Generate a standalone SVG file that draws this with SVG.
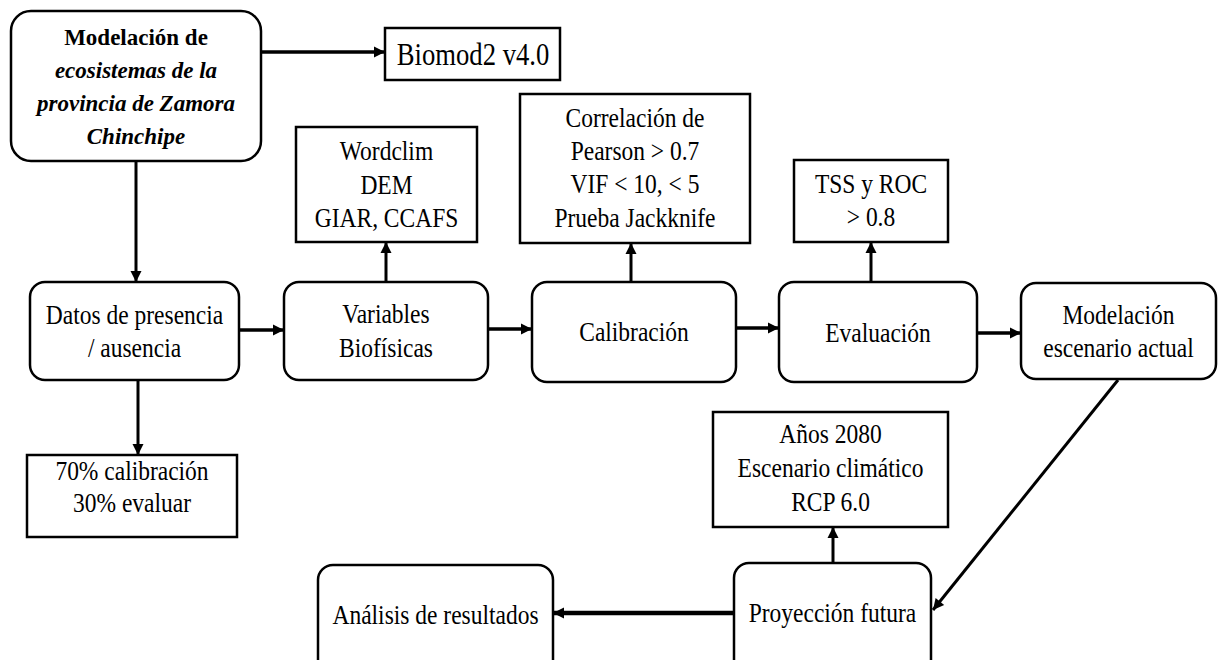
<svg xmlns="http://www.w3.org/2000/svg" width="1218" height="660" viewBox="0 0 1218 660">
<style>
.box{fill:#fff;stroke:#000;stroke-width:2.5}
.lbl{font-family:'Liberation Serif','Times New Roman',serif;font-size:30px;fill:#000;text-anchor:middle}
.big{font-family:'Liberation Serif','Times New Roman',serif;font-size:31px;fill:#000;text-anchor:middle}
.ttl{font-family:'Liberation Serif','Times New Roman',serif;font-size:23px;font-weight:bold;fill:#000;text-anchor:middle}
.itl{font-style:italic}
.c{stroke:#000;stroke-width:3.5;fill:none}
.c2{stroke:#000;stroke-width:3;fill:none}
.c3{stroke:#000;stroke-width:4.5;fill:none}
</style>
<defs>
<marker id="ah" markerUnits="userSpaceOnUse" markerWidth="14" markerHeight="14" viewBox="0 0 14 14" refX="12" refY="7" orient="auto">
<path d="M1,1.5 L12,7 L1,12.5 Z" fill="#000"/>
</marker>
</defs>
<rect width="1218" height="660" fill="#fff"/>
<g id="connectors">
<line class="c" x1="261" y1="52" x2="385" y2="52" marker-end="url(#ah)"/>
<line class="c2" x1="136" y1="161" x2="136" y2="282" marker-end="url(#ah)"/>
<line class="c2" x1="138" y1="380" x2="138" y2="455" marker-end="url(#ah)"/>
<line class="c" x1="239" y1="330" x2="284" y2="330" marker-end="url(#ah)"/>
<line class="c2" x1="386" y1="282" x2="386" y2="242" marker-end="url(#ah)"/>
<line class="c" x1="488" y1="329" x2="532" y2="329" marker-end="url(#ah)"/>
<line class="c2" x1="631" y1="282" x2="631" y2="243" marker-end="url(#ah)"/>
<line class="c" x1="736" y1="328" x2="779" y2="328" marker-end="url(#ah)"/>
<line class="c2" x1="871" y1="282" x2="871" y2="242" marker-end="url(#ah)"/>
<line class="c" x1="977" y1="333" x2="1021" y2="333" marker-end="url(#ah)"/>
<line class="c2" x1="1118" y1="380" x2="933" y2="610" marker-end="url(#ah)"/>
<line class="c2" x1="833" y1="563" x2="833" y2="527" marker-end="url(#ah)"/>
<line class="c3" x1="734" y1="613" x2="553" y2="613" marker-end="url(#ah)"/>
</g>
<g id="n-modelacion">
<rect class="box" x="11" y="11" width="250" height="150" rx="20"/>
<text class="ttl" x="136" y="45">Modelación de</text>
<text class="ttl itl" x="136" y="78">ecosistemas de la</text>
<text class="ttl itl" x="136" y="111">provincia de Zamora</text>
<text class="ttl itl" x="136" y="144">Chinchipe</text>
</g>
<g id="n-biomod">
<rect class="box" x="385" y="28" width="175" height="52"/>
<text class="big" transform="translate(473,65) scale(0.86,1)">Biomod2 v4.0</text>
</g>
<g id="n-wordclim">
<rect class="box" x="296" y="127" width="181" height="115"/>
<text class="lbl" transform="translate(386.5,160) scale(0.783,0.9)"><tspan x="0" y="0">Wordclim</tspan><tspan x="0" y="37.8">DEM</tspan><tspan x="0" y="74.4">GIAR, CCAFS</tspan></text>
</g>
<g id="n-correlacion">
<rect class="box" x="520" y="94" width="230" height="149"/>
<text class="lbl" transform="translate(635,127) scale(0.783,0.9)"><tspan x="0" y="0">Correlación de</tspan><tspan x="0" y="36.7">Pearson &gt; 0.7</tspan><tspan x="0" y="73.3">VIF &lt; 10, &lt; 5</tspan><tspan x="0" y="111.1">Prueba Jackknife</tspan></text>
</g>
<g id="n-tss">
<rect class="box" x="794" y="160" width="154" height="82"/>
<text class="lbl" transform="translate(871,193) scale(0.783,0.9)"><tspan x="0" y="0">TSS y ROC</tspan><tspan x="0" y="36.7">&gt; 0.8</tspan></text>
</g>
<g id="n-datos">
<rect class="box" x="30" y="282" width="209" height="98" rx="15"/>
<text class="lbl" transform="translate(134.5,324) scale(0.783,0.9)"><tspan x="0" y="0">Datos de presencia</tspan><tspan x="0" y="36.7">/ ausencia</tspan></text>
</g>
<g id="n-variables">
<rect class="box" x="284" y="282" width="204" height="98" rx="15"/>
<text class="lbl" transform="translate(386,323) scale(0.783,0.9)"><tspan x="0" y="0">Variables</tspan><tspan x="0" y="37.8">Biofísicas</tspan></text>
</g>
<g id="n-calibracion">
<rect class="box" x="532" y="282" width="204" height="100" rx="15"/>
<text class="lbl" transform="translate(634,341) scale(0.783,0.9)">Calibración</text>
</g>
<g id="n-evaluacion">
<rect class="box" x="779" y="282" width="198" height="100" rx="15"/>
<text class="lbl" transform="translate(878,342) scale(0.783,0.9)">Evaluación</text>
</g>
<g id="n-escenario">
<rect class="box" x="1021" y="283" width="195" height="96" rx="15"/>
<text class="lbl" transform="translate(1118.5,324) scale(0.783,0.9)"><tspan x="0" y="0">Modelación</tspan><tspan x="0" y="36.7">escenario actual</tspan></text>
</g>
<g id="n-70">
<rect class="box" x="27" y="455" width="210" height="82"/>
<text class="lbl" transform="translate(132,480) scale(0.783,0.9)"><tspan x="0" y="0">70% calibración</tspan><tspan x="0" y="35.6">30% evaluar</tspan></text>
</g>
<g id="n-anos">
<rect class="box" x="713" y="412" width="235" height="115"/>
<text class="lbl" transform="translate(830.5,443) scale(0.783,0.9)"><tspan x="0" y="0">Años 2080</tspan><tspan x="0" y="37.8">Escenario climático</tspan><tspan x="0" y="75.6">RCP 6.0</tspan></text>
</g>
<g id="n-proyeccion">
<rect class="box" x="734" y="563" width="197" height="120" rx="15"/>
<text class="lbl" transform="translate(832.5,622) scale(0.783,0.9)">Proyección futura</text>
</g>
<g id="n-analisis">
<rect class="box" x="318" y="565" width="235" height="120" rx="15"/>
<text class="lbl" transform="translate(435.5,624) scale(0.783,0.9)">Análisis de resultados</text>
</g>
</svg>
